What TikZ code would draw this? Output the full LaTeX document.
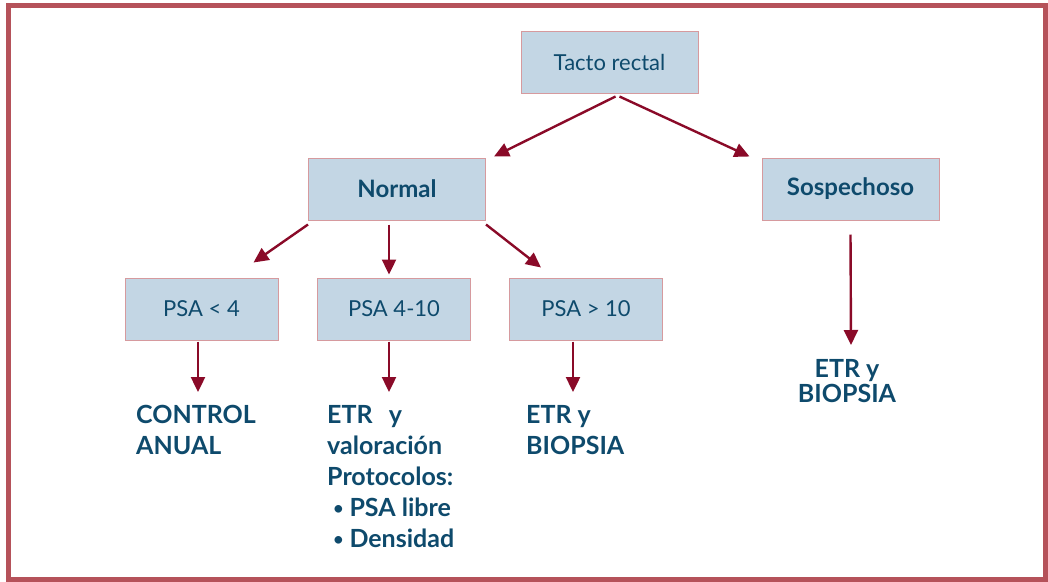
\documentclass[tikz,border=0pt]{standalone}
\usepackage{fontspec}
\setmainfont{Lato}
\usepackage{xcolor}
\usepackage{tikz}
\usetikzlibrary{arrows.meta}
\definecolor{frameRed}{HTML}{B5525A}
\definecolor{boxFill}{HTML}{C3D6E4}
\definecolor{boxLine}{HTML}{D69A9E}
\definecolor{arrowRed}{HTML}{8A0A28}
\definecolor{textBlue}{HTML}{0E4A6C}
\newcommand{\smallbullet}{\raisebox{0.15ex}{\scalebox{0.7}{\textbullet}}}
\tikzset{
  flowbox/.style={draw=boxLine, fill=boxFill, line width=1pt, minimum width=177pt,
                  minimum height=62pt, inner sep=0pt, text=textBlue},
  psabox/.style={flowbox, minimum width=153pt},
  plainlbl/.style={font=\fontsize{22}{26}\selectfont},
  boldlbl/.style={font=\fontsize{24}{28}\selectfont\bfseries},
  result/.style={text=textBlue, inner sep=0pt, align=left, anchor=north west,
                 font=\fontsize{25}{31}\selectfont\bfseries},
  flowarrow/.style={draw=arrowRed, line width=2.4pt, -{Triangle[width=14pt,length=15pt]}}
}

\begin{document}
\begin{tikzpicture}[x=1pt, y=-1pt]
  \useasboundingbox (0,0) rectangle (1048,581);
  \draw[frameRed, line width=5pt] (8,5) rectangle (1045.5,579);

  % boxes
  \node[flowbox, plainlbl] (tacto) at (609.5,62) {Tacto rectal};
  \node[flowbox, boldlbl]  (normal) at (397,189) {Normal};
  \node[flowbox, boldlbl]  (sosp) at (850.5,189) {Sospechoso};
  \node[psabox, plainlbl]  (psaA) at (201.5,309) {PSA < 4};
  \node[psabox, plainlbl]  (psaB) at (394,309) {PSA 4-10};
  \node[psabox, plainlbl]  (psaC) at (586,309) {PSA > 10};

  % results
  \node[result] (ctrl) at (136,405) {CONTROL\\ANUAL};
  \node[result] (etrB) at (327,405) {ETR~~\,y\\valoración\\Protocolos:\\\ \smallbullet\ PSA libre\\\ \smallbullet\ Densidad};
  \node[result] (etrC) at (526,405) {ETR y\\BIOPSIA};
  \node[result, align=center, anchor=north, font=\fontsize{25}{25}\selectfont\bfseries]
    (etrS) at (847,359) {ETR y\\BIOPSIA};

  % arrows
  \draw[flowarrow] ([xshift=6pt,yshift=-3pt]tacto.south) -- ([xshift=97pt,yshift=1pt]normal.north);
  \draw[flowarrow] ([xshift=10pt,yshift=-3pt]tacto.south) -- ([xshift=-101pt,yshift=1pt]sosp.north);
  \draw[flowarrow] ([yshift=-4pt]normal.south west) -- ([xshift=52pt,yshift=15pt]psaA.north);
  \draw[flowarrow] ([xshift=-8pt,yshift=-4pt]normal.south) -- ([xshift=-5pt,yshift=3pt]psaB.north);
  \draw[flowarrow] ([yshift=-4pt]normal.south east) -- ([xshift=-45pt,yshift=10pt]psaC.north);
  \draw[flowarrow] ([xshift=-3.5pt,yshift=-1pt]psaA.south) -- ([xshift=62pt,yshift=13pt]ctrl.north west);
  \draw[flowarrow] ([xshift=-5pt,yshift=-1pt]psaB.south) -- ([xshift=62pt,yshift=13pt]etrB.north west);
  \draw[flowarrow] ([xshift=-13pt,yshift=-1pt]psaC.south) -- ([xshift=47pt,yshift=13pt]etrC.north west);
  \draw[flowarrow] ([yshift=-14pt]sosp.south) -- ([xshift=4pt,yshift=14pt]etrS.north);
\end{tikzpicture}
\end{document}
